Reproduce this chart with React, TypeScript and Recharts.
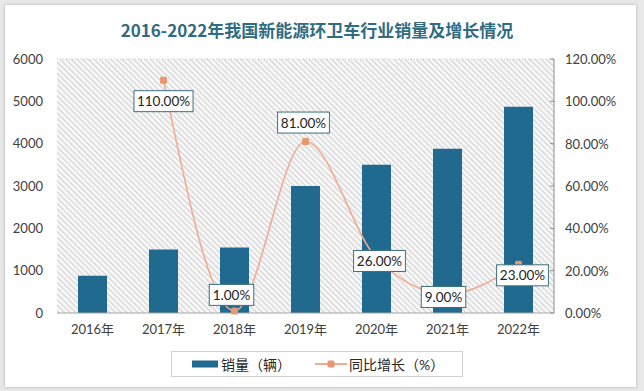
import React from 'react';
import {
  ComposedChart,
  Bar,
  Line,
  XAxis,
  YAxis,
  Legend,
  ReferenceArea,
  ReferenceLine,
  LabelList,
} from 'recharts';

const title = '2016-2022年我国新能源环卫车行业销量及增长情况';
const categories = ['2016年', '2017年', '2018年', '2019年', '2020年', '2021年', '2022年'];
const salesValues = [880, 1500, 1550, 3000, 3500, 3880, 4870];
const growthValues: (number | null)[] = [null, 110, 1, 81, 26, 9, 23];
const leftTicks = [0, 1000, 2000, 3000, 4000, 5000, 6000];
const rightTicks = [0, 20, 40, 60, 80, 100, 120];
const salesName = '销量（辆）';
const growthName = '同比增长（%）';

const data = categories.map((c, i) => ({
  year: c,
  sales: salesValues[i],
  growth: growthValues[i],
}));

// label box placement relative to each point (style, not data)
const labelShift: [number, number][] = [
  [0, 0],
  [0, 21],
  [-3, -16],
  [-2, -19],
  [3, 3],
  [-4, 3],
  [4, 11],
];

const BAR_COLOR = '#1f6a8e';
const LINE_COLOR = '#f2ab90';
const DOT_COLOR = '#ea9670';
const FONT = "Lato, 'Noto Sans CJK SC', sans-serif";

const fmtPct = (v: number) => `${Number(v).toFixed(2)}%`;

const GrowthLabel = (props: any) => {
  const { x, y, value, index } = props;
  if (value === null || value === undefined || x === undefined) return null;
  const text = fmtPct(value);
  const [dx, dy] = labelShift[index] || [0, 0];
  const w = text.length * 7.3 + 8;
  const h = 21;
  const cx = x + dx;
  const cy = y + dy;
  return (
    <g>
      <rect
        x={cx - w / 2}
        y={cy - h / 2}
        width={w}
        height={h}
        fill="#ffffff"
        stroke="#3d6f7c"
        strokeWidth={1}
      />
      <text
        x={cx}
        y={cy}
        textAnchor="middle"
        dominantBaseline="central"
        fontSize={13.5}
        fontFamily={FONT}
        fill="#222"
      >
        {text}
      </text>
    </g>
  );
};

const GrowthDot = (props: any) => {
  const { cx, cy, value } = props;
  if (value === null || value === undefined || cx == null || cy == null) return <g />;
  return <rect x={cx - 3.5} y={cy - 3.5} width={7} height={7} rx={1.5} fill={DOT_COLOR} />;
};

const RightTick = (props: any) => {
  const { x, y, payload } = props;
  const axisX = x - 11;
  return (
    <g>
      <line x1={axisX - 4} y1={y} x2={axisX} y2={y} stroke="#8c8c8c" strokeWidth={1} />
      <text
        x={x}
        y={y}
        textAnchor="start"
        dominantBaseline="central"
        fontSize={13}
        fontFamily={FONT}
        fill="#404040"
      >
        {fmtPct(payload.value)}
      </text>
    </g>
  );
};

const LegendContent = () => (
  <div
    style={{
      boxSizing: 'border-box',
      width: 292,
      height: 26,
      border: '1px solid #d0d0d0',
      background: '#fff',
      display: 'flex',
      alignItems: 'center',
      fontFamily: FONT,
      fontSize: 14,
      color: '#262626',
      paddingLeft: 20,
    }}
  >
    <svg width={26} height={8} style={{ marginRight: 3 }}>
      <rect x={0} y={0.5} width={26} height={7} fill={BAR_COLOR} />
    </svg>
    <span>{salesName}</span>
    <svg width={32} height={10} style={{ marginLeft: 24, marginRight: 2 }}>
      <line x1={0} y1={5} x2={32} y2={5} stroke={LINE_COLOR} strokeWidth={2} />
      <rect x={12.5} y={1.5} width={7} height={7} rx={1.5} fill={DOT_COLOR} />
    </svg>
    <span>{growthName}</span>
  </div>
);

export default function App() {
  return (
    <div
      style={{
        position: 'absolute',
        left: 0,
        top: 0,
        width: 644,
        height: 391,
        background: '#e8e8e8',
        overflow: 'hidden',
      }}
    >
      <svg width={1} height={1} style={{ position: 'absolute', left: 0, top: 0 }}>
        <defs>
          <pattern
            id="hatch"
            width={4}
            height={4}
            patternUnits="userSpaceOnUse"
            patternTransform="rotate(-45)"
          >
            <rect x={0} y={0} width={4} height={4} fill="#f7f7f7" />
            <line x1={0.5} y1={0} x2={0.5} y2={4} stroke="#d2d2d2" strokeWidth={1.2} />
          </pattern>
        </defs>
      </svg>
      <div
        style={{
          position: 'absolute',
          left: 5,
          top: 5,
          width: 631,
          height: 382,
          background: '#ffffff',
          boxShadow: '0 0 3px rgba(0,0,0,0.25)',
        }}
      />
      <div
        style={{
          position: 'absolute',
          left: 0,
          top: 19,
          width: 634,
          textAlign: 'center',
          fontFamily: "'Noto Sans CJK SC', sans-serif",
          fontWeight: 700,
          fontSize: 17,
          lineHeight: '22px',
          color: '#2f6c82',
        }}
      >
        {title}
      </div>
      <div style={{ position: 'absolute', left: 0, top: 0 }}>
        <ComposedChart
          width={644}
          height={391}
          data={data}
          margin={{ top: 59, right: 10, bottom: 14, left: 8 }}
          barCategoryGap={0}
        >
          <XAxis
            dataKey="year"
            height={38}
            tickLine={false}
            axisLine={{ stroke: '#a6a6a6' }}
            tick={{ fontSize: 13, fontFamily: FONT, fill: '#404040' }}
            tickMargin={6}
            interval={0}
          />
          <YAxis
            yAxisId="left"
            orientation="left"
            width={49}
            domain={[0, 6000]}
            ticks={leftTicks}
            axisLine={false}
            tickLine={false}
            tickMargin={8}
            tick={{ fontSize: 13, fontFamily: FONT, fill: '#404040' }}
          />
          <YAxis
            yAxisId="right"
            orientation="right"
            width={80}
            domain={[0, 120]}
            ticks={rightTicks}
            axisLine={{ stroke: '#8c8c8c' }}
            tickLine={false}
            tickSize={0}
            tickMargin={11}
            tick={<RightTick />}
          />
          <ReferenceArea
            yAxisId="left"
            y1={0}
            y2={6000}
            fill="url(#hatch)"
            fillOpacity={1}
            stroke="none"
          />
          <ReferenceLine
            yAxisId="left"
            y={6000}
            stroke="#c8c8c8"
            strokeDasharray="1 2"
          />
          <Legend
            verticalAlign="bottom"
            height={26}
            wrapperStyle={{ left: 171, bottom: 14, width: 292, height: 26 }}
            content={<LegendContent />}
          />
          <Bar
            yAxisId="left"
            dataKey="sales"
            name={salesName}
            fill={BAR_COLOR}
            barSize={29}
            isAnimationActive={false}
          />
          <Line
            yAxisId="right"
            dataKey="growth"
            name={growthName}
            type="monotone"
            stroke={LINE_COLOR}
            strokeWidth={1.6}
            dot={<GrowthDot />}
            activeDot={false}
            connectNulls={false}
            isAnimationActive={false}
          >
            <LabelList dataKey="growth" content={<GrowthLabel />} />
          </Line>
        </ComposedChart>
      </div>
    </div>
  );
}
